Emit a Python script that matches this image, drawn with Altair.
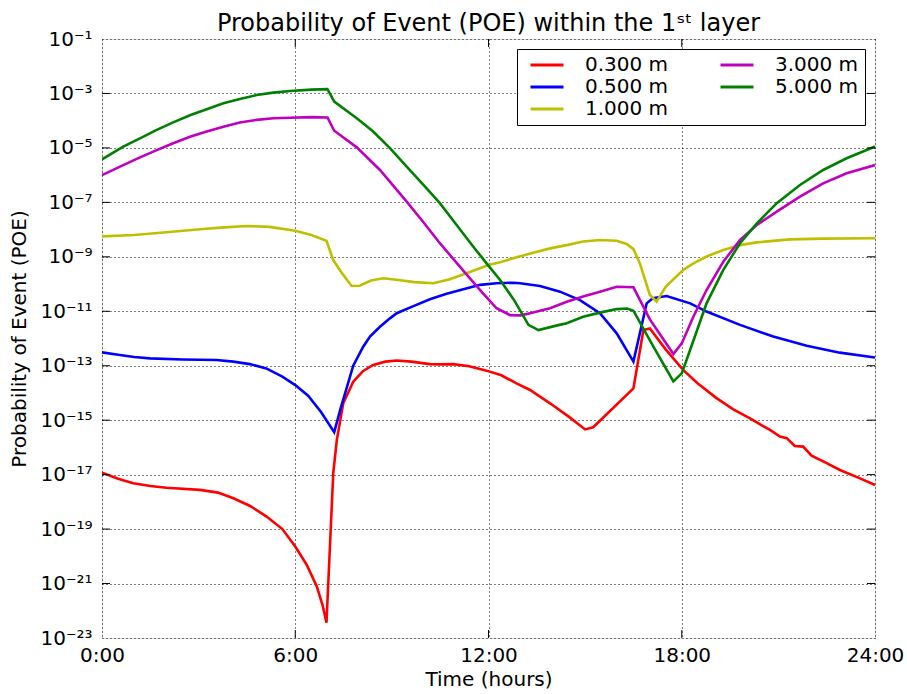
import altair as alt
import pandas as pd

# ---- data (hours, log10 of POE) ----
hours_red = [0, 0.5, 0.97, 1.5, 2.0, 3.04, 3.6, 4.08, 4.6, 5.11, 5.6, 6.0, 6.35, 6.67, 6.85, 6.97,
             7.18, 7.29, 7.49, 7.8, 8.1, 8.42, 8.8, 9.15, 9.6, 10.18, 10.5, 10.91, 11.4, 11.94,
             12.4, 12.87, 13.29, 13.91, 14.5, 15.0, 15.25, 16.5, 16.81, 17.01, 17.5, 18.05, 18.5,
             19.08, 19.6, 20.12, 20.5, 20.74, 21.05, 21.26, 21.51, 21.77, 22.03, 22.5, 22.91, 23.5, 24]
log_red = [-16.93, -17.15, -17.32, -17.42, -17.48, -17.56, -17.66, -17.87, -18.15, -18.54, -19.0,
           -19.64, -20.3, -21.11, -21.8, -22.44, -16.95, -15.73, -14.38, -13.59, -13.2, -12.97,
           -12.85, -12.81, -12.85, -12.94, -12.95, -12.94, -13.02, -13.18, -13.35, -13.65, -13.89,
           -14.38, -14.88, -15.34, -15.26, -13.83, -11.69, -11.63, -12.4, -13.16, -13.65, -14.19,
           -14.6, -14.93, -15.2, -15.36, -15.60, -15.66, -15.95, -15.97, -16.30, -16.58, -16.83,
           -17.12, -17.38]

hours_blue = [0, 0.5, 1.0, 1.49, 2.5, 3.56, 4.08, 4.59, 5.1, 5.6, 6.0, 6.4, 6.8, 7.21, 7.4, 7.6,
              7.8, 8.11, 8.32, 8.63, 8.94, 9.15, 9.67, 10.18, 10.70, 11.22, 11.74, 12.25, 12.77,
              12.98, 13.60, 14.22, 14.84, 15.46, 15.98, 16.5, 16.91, 17.1, 17.53, 18.26, 18.77,
              19.81, 20.84, 21.88, 22.91, 24]
log_blue = [-12.51, -12.6, -12.68, -12.73, -12.77, -12.79, -12.85, -12.94, -13.1, -13.4, -13.71,
            -14.1, -14.7, -15.44, -14.6, -13.8, -13.0, -12.30, -11.93, -11.57, -11.26, -11.07,
            -10.81, -10.56, -10.36, -10.19, -10.03, -9.97, -9.95, -9.97, -10.07, -10.28, -10.59,
            -11.07, -11.81, -12.85, -10.71, -10.52, -10.44, -10.71, -11.01, -11.50, -11.93,
            -12.27, -12.52, -12.70]

hours_yellow = [0, 1.0, 2.0, 3.04, 3.8, 4.49, 5.2, 6.0, 6.5, 6.97, 7.18, 7.45, 7.75, 8.0, 8.35,
                8.73, 9.2, 9.7, 10.29, 10.8, 11.4, 12.0, 12.36, 12.87, 13.39, 13.91, 14.43, 14.94,
                15.46, 15.98, 16.29, 16.5, 16.7, 17.01, 17.22, 17.5, 18.05, 18.36, 18.77, 19.29,
                19.81, 20.33, 21.36, 22.39, 24]
log_yellow = [-8.25, -8.2, -8.10, -7.99, -7.92, -7.87, -7.9, -8.04, -8.2, -8.41, -9.12, -9.6,
              -10.07, -10.06, -9.87, -9.79, -9.85, -9.93, -9.97, -9.82, -9.57, -9.30, -9.20,
              -9.02, -8.85, -8.69, -8.57, -8.44, -8.38, -8.41, -8.53, -8.72, -9.24, -10.40,
              -10.65, -10.1, -9.48, -9.24, -8.99, -8.75, -8.57, -8.47, -8.36, -8.33, -8.32]

hours_magenta = [0, 0.66, 1.18, 1.70, 2.21, 2.73, 3.25, 3.77, 4.28, 4.80, 5.32, 5.84, 6.5, 7.0,
                 7.21, 7.91, 8.63, 9.46, 9.98, 10.49, 11.11, 11.74, 12.25, 12.67, 13.0, 13.29,
                 13.91, 14.43, 14.94, 15.46, 15.98, 16.5, 17.01, 17.74, 18.0, 18.36, 18.77, 19.29,
                 19.81, 20.33, 20.95, 21.67, 22.39, 23.12, 24]
log_magenta = [-6.0, -5.63, -5.35, -5.08, -4.83, -4.59, -4.40, -4.22, -4.07, -3.97, -3.91, -3.89,
               -3.87, -3.88, -4.37, -4.98, -5.81, -6.97, -7.73, -8.50, -9.36, -10.22, -10.89,
               -11.14, -11.15, -11.07, -10.89, -10.65, -10.46, -10.28, -10.10, -10.12, -11.3,
               -12.57, -12.18, -11.20, -10.22, -9.18, -8.38, -7.83, -7.34, -6.79, -6.30, -5.93,
               -5.63]

hours_green = [0, 0.66, 1.18, 1.70, 2.21, 2.73, 3.25, 3.77, 4.28, 4.80, 5.32, 5.84, 6.5, 7.0,
               7.21, 7.91, 8.42, 8.94, 9.46, 9.98, 10.49, 11.01, 11.53, 11.94, 12.36, 12.8, 13.24,
               13.55, 14.2, 14.43, 14.94, 15.46, 15.98, 16.3, 16.5, 17.12, 17.74, 18.0, 18.15,
               18.77, 19.29, 19.81, 20.33, 20.95, 21.67, 22.39, 23.12, 24]
log_green = [-5.42, -4.95, -4.65, -4.34, -4.06, -3.80, -3.58, -3.36, -3.20, -3.06, -2.97, -2.91,
             -2.86, -2.84, -3.30, -3.91, -4.40, -5.01, -5.69, -6.36, -7.03, -7.83, -8.63, -9.24,
             -9.85, -10.6, -11.50, -11.69, -11.5, -11.44, -11.20, -11.05, -10.92, -10.9, -10.98,
             -12.30, -13.58, -13.28, -12.79, -10.71, -9.48, -8.50, -7.77, -7.03, -6.36, -5.81,
             -5.38, -4.95]

series_names = ["0.300 m", "0.500 m", "1.000 m", "3.000 m", "5.000 m"]
series_colors = ["#ff0000", "#0000ff", "#bfbf00", "#bf00bf", "#008000"]
series_data = [(hours_red, log_red), (hours_blue, log_blue), (hours_yellow, log_yellow),
               (hours_magenta, log_magenta), (hours_green, log_green)]

x_tick_hours = [0, 6, 12, 18, 24]
y_tick_exps = list(range(-23, 0, 2))

# ---- build table ----
rows = []
for name, (hs, ls) in zip(series_names, series_data):
    for h, l in zip(hs, ls):
        rows.append({"series": name, "hour": h, "poe": 10.0 ** l})
df = pd.DataFrame(rows)

FONT = "DejaVu Sans"
W, H = 773, 599

sup = str.maketrans("-0123456789", "⁻⁰¹²³⁴⁵⁶⁷⁸⁹")
y_label_expr = "''"
for e in reversed(y_tick_exps):
    y_label_expr = (f"(round(log(datum.value)/LN10) == {e}) ? '10{str(e).translate(sup)}' : "
                    + y_label_expr)
y_tick_values = [10.0 ** e for e in y_tick_exps]

xscale = alt.Scale(domain=[0, 24], nice=False, zero=False)
yscale = alt.Scale(type="log", domain=[1e-23, 1e-1], nice=False)

x_enc = alt.X(
    "hour:Q", scale=xscale,
    axis=alt.Axis(values=x_tick_hours, labelExpr="datum.value + ':00'", title="Time (hours)",
                  grid=True, gridDash=[1, 3], gridColor="#000000", gridWidth=1,
                  tickSize=0, labelPadding=7, titlePadding=4, domain=False,
                  labelFontSize=20, titleFontSize=20, labelFont=FONT, titleFont=FONT,
                  labelColor="black", titleColor="black", titleFontWeight="normal",
                  labelFlush=False),
)
y_enc = alt.Y(
    "poe:Q", scale=yscale,
    axis=alt.Axis(values=y_tick_values, labelExpr=y_label_expr,
                  title="Probability of Event (POE)",
                  grid=True, gridDash=[1, 3], gridColor="#000000", gridWidth=1,
                  tickSize=0, labelPadding=10, titlePadding=10, domain=False,
                  labelFontSize=20, titleFontSize=20, labelFont=FONT, titleFont=FONT,
                  labelColor="black", titleColor="black", titleFontWeight="normal",
                  labelFlush=False),
)
color_enc = alt.Color(
    "series:N",
    scale=alt.Scale(domain=series_names, range=series_colors),
    legend=alt.Legend(title=None, orient="none", legendX=415, legendY=10, columns=2,
                      strokeColor="black", fillColor="white", padding=6, cornerRadius=0,
                      symbolType="M-3,0H3", symbolStrokeWidth=3, symbolSize=121,
                      symbolOffset=14, labelFontSize=20, labelFont=FONT, labelColor="black",
                      labelOffset=28, rowPadding=2, columnPadding=44, symbolOpacity=1),
)

layers = []
for name in series_names:
    layers.append(
        alt.Chart(df).transform_filter(alt.datum.series == name)
        .mark_line(strokeWidth=2.6, clip=True)
        .encode(x=x_enc, y=y_enc, color=color_enc)
    )

# inward tick marks on the frame (matplotlib style)
xt = pd.DataFrame({"hour": x_tick_hours[1:-1]})
yt = pd.DataFrame({"poe": y_tick_values[1:-1]})
tick_bottom = alt.Chart(xt).mark_rule(color="black", strokeWidth=1).encode(
    x=x_enc, y=alt.value(H), y2=alt.value(H - 8))
tick_top = alt.Chart(xt).mark_rule(color="black", strokeWidth=1).encode(
    x=x_enc, y=alt.value(0), y2=alt.value(8))
tick_left = alt.Chart(yt).mark_rule(color="black", strokeWidth=1).encode(
    y=y_enc, x=alt.value(0), x2=alt.value(8))
tick_right = alt.Chart(yt).mark_rule(color="black", strokeWidth=1).encode(
    y=y_enc, x=alt.value(W), x2=alt.value(W - 8))

chart = alt.layer(*layers, tick_bottom, tick_top, tick_left, tick_right).properties(
    width=W, height=H,
    title=alt.TitleParams("Probability of Event (POE) within the 1ˢᵗ layer",
                          fontSize=24, font=FONT, fontWeight="normal", color="black",
                          anchor="middle", offset=-7),
    autosize=alt.AutoSizeParams(type="none"),
    padding={"left": 102, "top": 39, "right": 32, "bottom": 56},
).configure_view(stroke="black", strokeWidth=1.3).configure(background="white")

chart.save("out.html", embed_options={"renderer": "svg", "actions": False})
